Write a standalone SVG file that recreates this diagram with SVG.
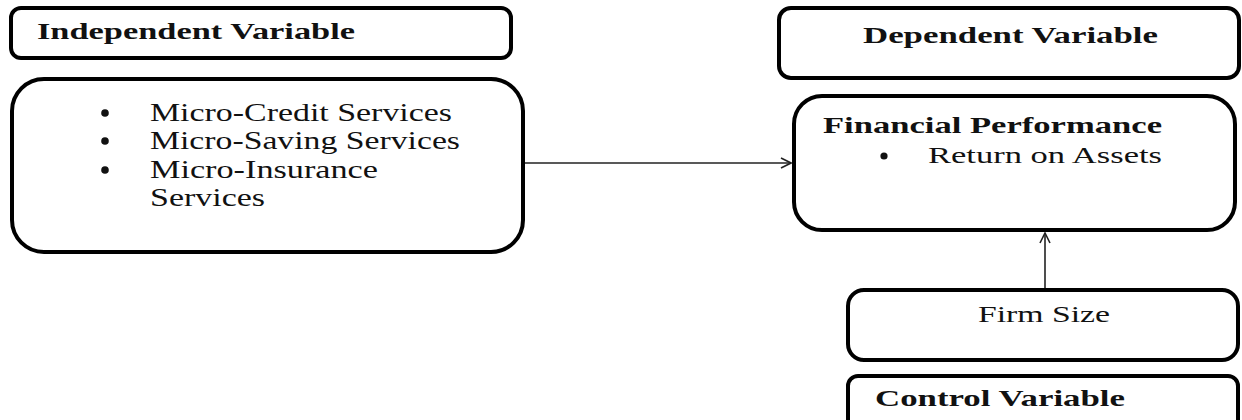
<svg xmlns="http://www.w3.org/2000/svg" width="1242" height="420" viewBox="0 0 1242 420">
<defs>
<style>
.box{fill:#fff;stroke:#000;stroke-width:4}
.t{font-family:'Liberation Serif','Times New Roman',Times,serif;fill:#111}
.b{font-weight:bold}
.dot{fill:#111}
.conn{stroke:#222;stroke-width:1.6;fill:none}
</style>
<marker id="arr" viewBox="0 0 12 12" refX="11" refY="6" markerWidth="12" markerHeight="12" markerUnits="userSpaceOnUse" orient="auto">
<path d="M1,1 L11,6 L1,11" fill="none" stroke="#222" stroke-width="1.6"/>
</marker>
</defs>
<rect width="1242" height="420" fill="#fff"/>
<g id="connectors">
<line class="conn" x1="525" y1="163" x2="791" y2="163" marker-end="url(#arr)"/>
<line class="conn" x1="1045" y1="288" x2="1045" y2="233" marker-end="url(#arr)"/>
</g>
<g id="independent-header">
<rect class="box" x="11" y="8" width="500" height="50" rx="10"/>
<text class="t b" x="37" y="39" font-size="23" textLength="318" lengthAdjust="spacingAndGlyphs">Independent Variable</text>
</g>
<g id="independent-node">
<rect class="box" x="12" y="79" width="511" height="173" rx="32"/>
<circle class="dot" cx="105" cy="113" r="3.8"/>
<circle class="dot" cx="105" cy="141" r="3.8"/>
<circle class="dot" cx="105" cy="170" r="3.8"/>
<text class="t" x="150" y="121" font-size="25" textLength="302" lengthAdjust="spacingAndGlyphs">Micro-Credit Services</text>
<text class="t" x="150" y="149" font-size="25" textLength="310" lengthAdjust="spacingAndGlyphs">Micro-Saving Services</text>
<text class="t" x="150" y="178" font-size="25" textLength="228" lengthAdjust="spacingAndGlyphs">Micro-Insurance</text>
<text class="t" x="150" y="206" font-size="25" textLength="115" lengthAdjust="spacingAndGlyphs">Services</text>
</g>
<g id="dependent-header">
<rect class="box" x="779" y="8" width="460" height="70" rx="12"/>
<text class="t b" x="863" y="43" font-size="23" textLength="295" lengthAdjust="spacingAndGlyphs">Dependent Variable</text>
</g>
<g id="financial-performance">
<rect class="box" x="794" y="96" width="441" height="134" rx="28"/>
<text class="t b" x="823" y="133" font-size="23" textLength="339" lengthAdjust="spacingAndGlyphs">Financial Performance</text>
<circle class="dot" cx="884" cy="156" r="3.6"/>
<text class="t" x="928" y="163" font-size="23" textLength="234" lengthAdjust="spacingAndGlyphs">Return on Assets</text>
</g>
<g id="firm-size">
<rect class="box" x="848" y="290" width="390" height="70" rx="16"/>
<text class="t" x="978" y="322" font-size="24" textLength="132" lengthAdjust="spacingAndGlyphs">Firm Size</text>
</g>
<g id="control-variable">
<rect class="box" x="848" y="376" width="390" height="60" rx="10"/>
<text class="t b" x="875" y="406" font-size="23" textLength="250" lengthAdjust="spacingAndGlyphs">Control Variable</text>
</g>
</svg>
